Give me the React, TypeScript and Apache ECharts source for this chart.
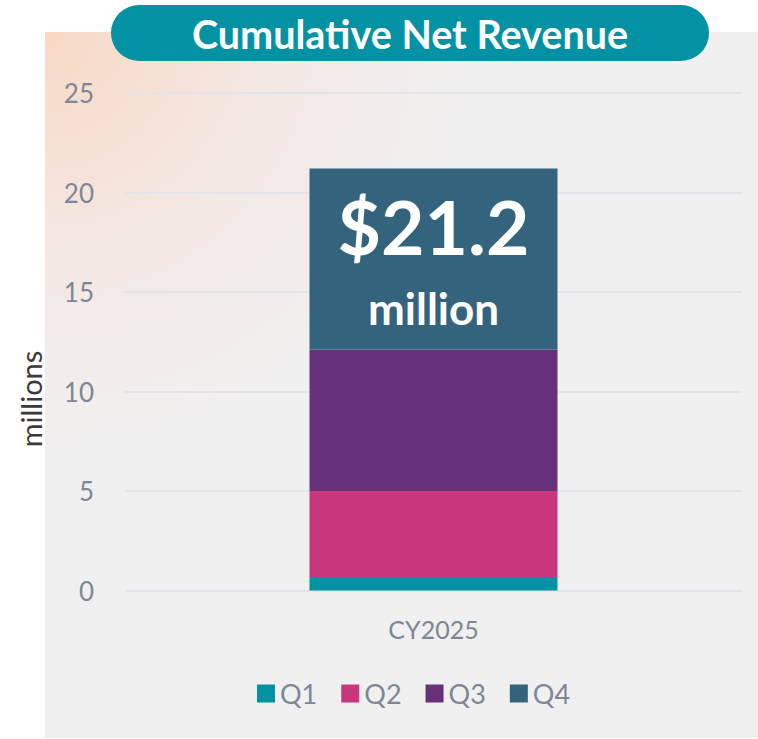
import React, { useEffect, useRef } from "react";
import * as echarts from "echarts";

const categories = ["CY2025"];
const seriesNames = ["Q1", "Q2", "Q3", "Q4"];
const q1 = [0.68];
const q2 = [4.32];
const q3 = [7.1];
const q4 = [9.1];
const seriesValues = [q1, q2, q3, q4];
const seriesColors = ["#0192a4", "#c9367b", "#67327a", "#34637e"];
const yTicks = { min: 0, max: 25, interval: 5 };
const titleText = "Cumulative Net Revenue";
const axisName = "millions";

const FONT = "Lato, 'Open Sans', sans-serif";

export default function App() {
  const ref = useRef<HTMLDivElement>(null);
  useEffect(() => {
    document.body.style.margin = "0";
    if (!ref.current) return;
    const chart = echarts.init(ref.current, undefined, { renderer: "svg" });
    const total = seriesValues.reduce((s, arr) => s + arr[0], 0);
    const series = seriesNames.map((name, i) => ({
      name,
      type: "bar",
      stack: "total",
      barWidth: 248,
      data: seriesValues[i],
      itemStyle: { color: seriesColors[i] },
      label:
        i === seriesNames.length - 1
          ? {
              show: true,
              position: "insideTop",
              distance: 15,
              formatter: () => `{a|$${total.toFixed(1)}}\n{b|million}`,
              rich: {
                a: {
                  fontFamily: FONT,
                  fontWeight: "bold",
                  fontSize: 75,
                  lineHeight: 84,
                  color: "#ffffff",
                  align: "center",
                },
                b: {
                  fontFamily: FONT,
                  fontWeight: "bold",
                  fontSize: 44,
                  lineHeight: 80,
                  color: "#ffffff",
                  align: "center",
                },
              },
            }
          : { show: false },
    }));
    chart.setOption({
      animation: false,
      graphic: [
        {
          type: "rect",
          z: -10,
          silent: true,
          shape: { x: 45, y: 32, width: 713, height: 706 },
          style: {
            fill: {
              type: "radial",
              x: 0,
              y: 0,
              r: 0.75,
              colorStops: [
                { offset: 0, color: "#f8d9c5" },
                { offset: 0.45, color: "#f3e9e5" },
                { offset: 0.8, color: "#f1f0f0" },
                { offset: 1, color: "#f0f0f0" },
              ],
            },
          },
        },
        {
          type: "rect",
          z: 10,
          shape: { x: 111, y: 5, width: 598, height: 56, r: 28 },
          style: { fill: "#0292a3" },
        },
        {
          type: "text",
          z: 11,
          x: 410,
          y: 33,
          style: {
            text: titleText,
            fill: "#ffffff",
            fontFamily: FONT,
            fontWeight: "bold",
            fontSize: 39.5,
            textAlign: "center",
            textVerticalAlign: "middle",
          },
        },
        {
          type: "text",
          z: 11,
          x: 30,
          y: 399,
          rotation: Math.PI / 2,
          style: {
            text: axisName,
            fill: "#3a3a3a",
            fontFamily: FONT,
            fontSize: 29,
            textAlign: "center",
            textVerticalAlign: "middle",
          },
        },
      ],
      grid: { left: 125, right: 16, top: 93, bottom: 148.5 },
      legend: {
        data: seriesNames,
        left: 252,
        top: 675,
        icon: "rect",
        itemWidth: 18,
        itemHeight: 18,
        itemGap: 24,
        textStyle: { fontFamily: FONT, fontSize: 27, color: "#7f8796" },
      },
      xAxis: {
        type: "category",
        data: categories,
        axisLine: { show: false },
        axisTick: { show: false },
        axisLabel: {
          fontFamily: FONT,
          fontSize: 25,
          color: "#7f8796",
          margin: 26,
        },
      },
      yAxis: {
        type: "value",
        min: yTicks.min,
        max: yTicks.max,
        interval: yTicks.interval,
        axisLine: { show: false },
        axisTick: { show: false },
        axisLabel: {
          fontFamily: FONT,
          fontSize: 26,
          color: "#7f8796",
          margin: 31,
        },
        splitLine: { lineStyle: { color: "#e2e4ea", width: 2 } },
      },
      series,
    });
    return () => chart.dispose();
  }, []);
  return (
    <div
      ref={ref}
      style={{ width: 758, height: 739, position: "absolute", left: 0, top: 0 }}
    />
  );
}
